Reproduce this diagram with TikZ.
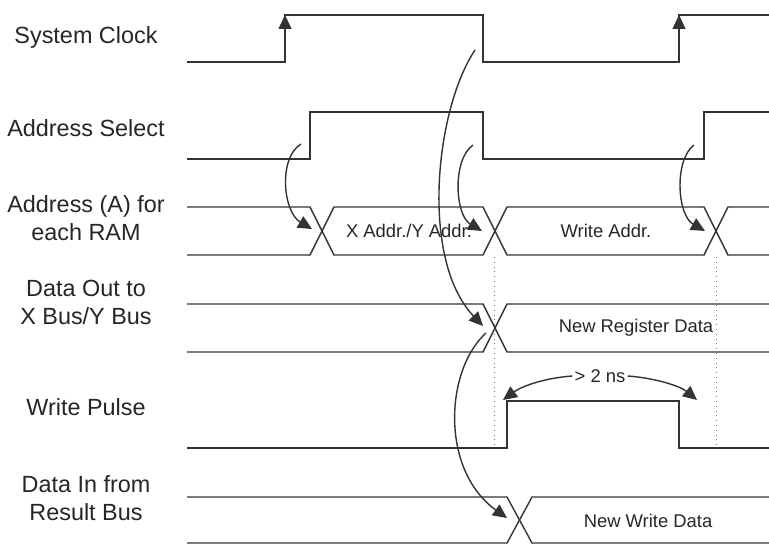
\documentclass[tikz,border=0pt]{standalone}
\usepackage{fontspec}
\setmainfont{Liberation Sans}
\usetikzlibrary{arrows.meta}

\begin{document}
\begin{tikzpicture}[x=0.5pt,y=-0.5pt]
    % Define styles
    \tikzstyle{sig}=[line width=0.7pt,draw=black!80]
    \tikzstyle{cause}=[sig,-{Triangle[length=7pt,width=6.5pt]}]
    \tikzstyle{guide}=[line width=0.4pt,draw=black!55,dotted]
    \tikzstyle{signame}=[align=center,text=black!85,font=\fontsize{11.7}{14}\selectfont]
    \tikzstyle{busval}=[text=black!85,font=\fontsize{9.2}{11}\selectfont]

    \useasboundingbox (0,0) rectangle (769,545);

    % Signal names
    \node[signame] (clk) at (86,37) {System Clock};
    \node[signame] (sel) at (86,128) {Address Select};
    \node[signame] (addr) at (86,218) {Address (A) for\\each RAM};
    \node[signame] (dout) at (86,302) {Data Out to\\X Bus/Y Bus};
    \node[signame] (wp) at (86,407) {Write Pulse};
    \node[signame] (din) at (86,498) {Data In from\\Result Bus};

    % System clock
    \draw[sig] (187,62) -- (285,62) -- (285,15) -- (483,15) -- (483,62) -- (679,62) -- (679,15) -- (769,15);
    \draw[cause] (285,35) -- (285,15);
    \draw[cause] (679,35) -- (679,15);

    % Address select
    \draw[sig] (187,159) -- (310,159) -- (310,112) -- (483,112) -- (483,159) -- (704,159) -- (704,112) -- (769,112);

    % Address bus
    \draw[sig] (187,207) -- (310,207) -- (334,255) -- (483,255) -- (507,207) -- (704,207) -- (728,255) -- (769,255);
    \draw[sig] (187,255) -- (310,255) -- (334,207) -- (483,207) -- (507,255) -- (704,255) -- (728,207) -- (769,207);
    \node[busval] (xyaddr) at (409,231) {X Addr./Y Addr.};
    \node[busval] (wraddr) at (606,231) {Write Addr.};

    % Data out
    \draw[sig] (187,304) -- (483,304) -- (507,352) -- (769,352);
    \draw[sig] (187,352) -- (483,352) -- (507,304) -- (769,304);
    \node[busval] (regdata) at (636,328) {New Register Data};

    % Write pulse
    \draw[sig] (187,448) -- (507,448) -- (507,401) -- (679,401) -- (679,448) -- (769,448);
    \node[busval,inner sep=1pt] (ns) at (600,376) {> 2 ns};

    % Data in
    \draw[sig] (187,497) -- (507,497) -- (532,543) -- (769,543);
    \draw[sig] (187,543) -- (507,543) -- (532,497) -- (769,497);
    \node[busval] (wrdata) at (648,521) {New Write Data};

    % Guides
    \draw[guide] (494,257) -- (494,448);
    \draw[guide] (716,257) -- (716,448);

    % Cause points
    \coordinate (selrise) at (301,144);
    \coordinate (selfall) at (473,145);
    \coordinate (selrise2) at (694,145);
    \coordinate (clkfall) at (475,50);
    \coordinate (doutx) at (486,333);
    \coordinate (ax1) at (312,229);
    \coordinate (ax2) at (482,231);
    \coordinate (ax3) at (705,231);
    \coordinate (dx) at (483,326);
    \coordinate (inx) at (507,518);
    \coordinate (wprise) at (503,400);
    \coordinate (wpfall) at (697,400);

    % Cause arrows
    \draw[cause] (selrise) .. controls (278,158) and (283,212) .. (ax1);
    \draw[cause] (selfall) .. controls (452,160) and (455,215) .. (ax2);
    \draw[cause] (selrise2) .. controls (674,160) and (677,215) .. (ax3);
    \draw[cause] (clkfall) .. controls (435,110) and (420,260) .. (dx);
    \draw[cause] (doutx) .. controls (445,370) and (440,470) .. (inx);
    \draw[cause] (ns.west) .. controls (545,378) and (522,386) .. (wprise);
    \draw[cause] (ns.east) .. controls (655,378) and (680,386) .. (wpfall);
\end{tikzpicture}
\end{document}
